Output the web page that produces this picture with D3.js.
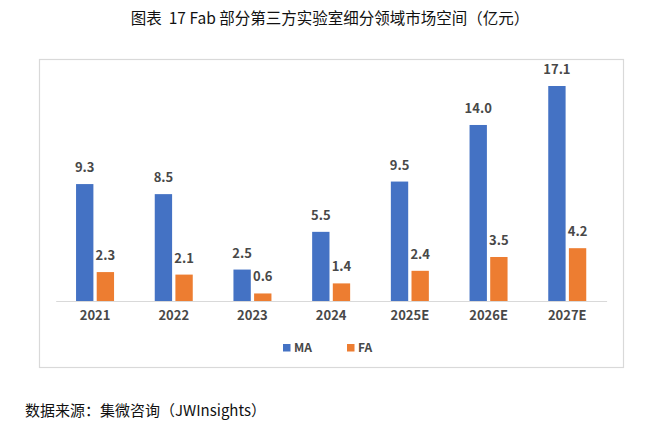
<!DOCTYPE html>
<html>
<head>
<meta charset="utf-8">
<script src="https://cdn.jsdelivr.net/npm/d3@7"></script>
<style>
  body { margin: 0; background: #fff; }
  text { font-family: "Noto Sans CJK SC", "Noto Sans", sans-serif; }
</style>
</head>
<body>
<div id="chart"></div>
<script>
// chart data
const years = ["2021", "2022", "2023", "2024", "2025E", "2026E", "2027E"];
const series = ["MA", "FA"];
const ma_values = [9.3, 8.5, 2.5, 5.5, 9.5, 14.0, 17.1];
const fa_values = [2.3, 2.1, 0.6, 1.4, 2.4, 3.5, 4.2];
const colors = ["#4472C4", "#ED7D31"];

const W = 660, H = 430;
const svg = d3.select("#chart").append("svg")
    .attr("width", W)
    .attr("height", H);

// title
svg.append("text")
    .attr("x", 330).attr("y", 24)
    .attr("text-anchor", "middle")
    .style("font-size", "15.5px")
    .style("white-space", "pre")
    .style("fill", "#111")
    .text("图表  17 Fab 部分第三方实验室细分领域市场空间（亿元）");

// chart frame
svg.append("rect")
    .attr("x", 39.5).attr("y", 59.5)
    .attr("width", 584).attr("height", 308)
    .attr("fill", "#fff")
    .attr("stroke", "#d9d9d9")
    .attr("stroke-width", 1.2);

// plot area
const margin = { left: 55.7, top: 60, right: 606.6, bottom: 301 };

const x_scale = d3.scaleBand()
    .domain(years)
    .range([margin.left, margin.right]);

const x_inner = d3.scaleBand()
    .domain(series)
    .range([x_scale.bandwidth() / 2 - 19, x_scale.bandwidth() / 2 + 19])
    .paddingInner(0.16);

const y_scale = d3.scaleLinear()
    .domain([0, 17.1])
    .range([margin.bottom, 86]);

const rows = years.map((y, i) => ({ year: y, values: [ma_values[i], fa_values[i]] }));

const groups = svg.selectAll(".grp")
    .data(rows)
    .enter().append("g")
    .attr("class", "grp")
    .attr("transform", d => `translate(${x_scale(d.year)},0)`);

groups.selectAll("rect")
    .data(d => d.values.map((v, k) => ({ key: series[k], value: v, k: k })))
    .enter().append("rect")
    .attr("x", d => x_inner(d.key))
    .attr("y", d => y_scale(d.value))
    .attr("width", x_inner.bandwidth())
    .attr("height", d => y_scale(0) - y_scale(d.value))
    .attr("fill", d => colors[d.k]);

groups.selectAll(".lbl")
    .data(d => d.values.map((v, k) => ({ key: series[k], value: v, k: k })))
    .enter().append("text")
    .attr("class", "lbl")
    .attr("x", d => x_inner(d.key) + x_inner.bandwidth() / 2)
    .attr("y", d => y_scale(d.value) - 12)
    .attr("text-anchor", "middle")
    .style("font-size", "13px")
    .style("font-weight", "bold")
    .style("fill", "#484848")
    .text(d => d.value.toFixed(1));

// x axis
const x_axis = svg.append("g")
    .attr("transform", `translate(0,${margin.bottom})`)
    .call(d3.axisBottom(x_scale).tickSize(0).tickPadding(10));
x_axis.select(".domain").attr("stroke", "#d9d9d9").attr("stroke-width", 1.2);
x_axis.selectAll("text")
    .style("font-family", "'Noto Sans CJK SC', sans-serif")
    .style("font-size", "13px")
    .style("font-weight", "bold")
    .style("fill", "#484848");

// legend
const legend = svg.append("g").attr("transform", "translate(283,344)");
const legend_items = legend.selectAll("g")
    .data(series)
    .enter().append("g")
    .attr("transform", (d, i) => `translate(${i * 64},0)`);
legend_items.append("rect")
    .attr("width", 7.5).attr("height", 7.5)
    .attr("fill", (d, i) => colors[i]);
legend_items.append("text")
    .attr("x", 11).attr("y", 8)
    .style("font-size", "12px")
    .style("font-weight", "bold")
    .style("fill", "#484848")
    .text(d => d);

// source note
svg.append("text")
    .attr("x", 25).attr("y", 416)
    .style("font-size", "15px")
    .style("fill", "#111")
    .text("数据来源：集微咨询（JWInsights）");
</script>
</body>
</html>
